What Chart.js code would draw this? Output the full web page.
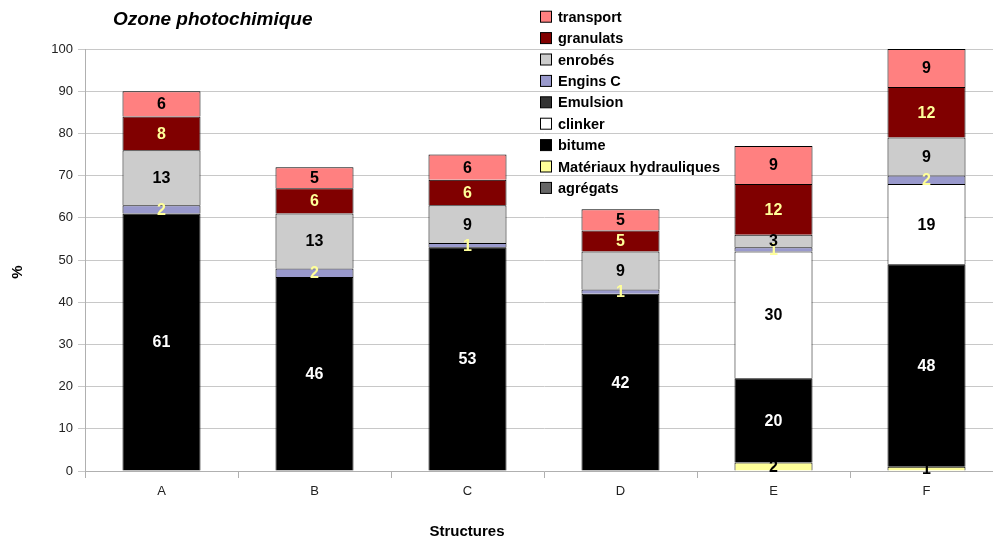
<!DOCTYPE html>
<html>
<head>
<meta charset="utf-8">
<script src="https://cdn.jsdelivr.net/npm/chart.js@4/dist/chart.umd.min.js"></script>
<style>
html,body{margin:0;padding:0;background:#fff;overflow:hidden;width:993px;height:544px;}
#wrap{position:relative;width:1010px;height:544px;}
</style>
</head>
<body>
<div id="wrap"><canvas id="c" width="1010" height="544"></canvas></div>
<script>
const categories = ['A','B','C','D','E','F'];
const agregats   = [0,0,0,0,0,0];
const materiaux  = [0,0,0,0,2,1];
const bitume     = [61,46,53,42,20,48];
const clinker    = [0,0,0,0,30,19];
const emulsion   = [0,0,0,0,0,0];
const engins     = [2,2,1,1,1,2];
const enrobes    = [13,13,9,9,3,9];
const granulats  = [8,6,6,5,12,12];
const transport  = [6,5,6,5,9,9];
const yTicks = [0,10,20,30,40,50,60,70,80,90,100];

const FONT = "'Liberation Sans', Arial, sans-serif";

function ds(label, data, color, labelColor){
  return {label, data: data.map(v => v === 0 ? null : v), backgroundColor: color,
    borderColor: '#000', borderWidth: 1, labelColor};
}
const datasets = [
  ds('agrégats', agregats, '#666666', '#000'),
  ds('Matériaux hydrauliques', materiaux, '#FFFF99', '#000'),
  ds('bitume', bitume, '#000000', '#FFFFFF'),
  ds('clinker', clinker, '#FFFFFF', '#000'),
  ds('Emulsion', emulsion, '#333333', '#FFFFFF'),
  ds('Engins C', engins, '#9999CC', '#FFFF99'),
  ds('enrobés', enrobes, '#CCCCCC', '#000'),
  ds('granulats', granulats, '#800000', '#FFFF99'),
  ds('transport', transport, '#FF8080', '#000')
];

const labelsPlugin = {
  id: 'valLabels',
  afterDatasetsDraw(chart){
    const ctx = chart.ctx;
    ctx.save();
    ctx.font = "bold 16px " + FONT;
    ctx.textAlign = 'center';
    ctx.textBaseline = 'middle';
    chart.data.datasets.forEach((d, i) => {
      const meta = chart.getDatasetMeta(i);
      meta.data.forEach((el, j) => {
        const v = d.data[j];
        if (v === null || v === undefined || v === 0) return;
        const p = el.getProps(['x','y','base'], true);
        ctx.fillStyle = d.labelColor;
        ctx.fillText(String(v), p.x, (p.y + p.base) / 2 + 1);
      });
    });
    ctx.restore();
  }
};

const decorPlugin = {
  id: 'decor',
  afterDraw(chart){
    const ctx = chart.ctx;
    ctx.save();
    ctx.fillStyle = '#000';
    ctx.font = "italic bold 19px " + FONT;
    ctx.textAlign = 'left';
    ctx.textBaseline = 'middle';
    ctx.fillText('Ozone photochimique', 113, 20);
    ctx.font = "bold 15px " + FONT;
    ctx.textAlign = 'center';
    ctx.fillText('Structures', 467, 532);
    ctx.save();
    ctx.translate(18, 272);
    ctx.rotate(-Math.PI/2);
    ctx.fillText('%', 0, 0);
    ctx.restore();
    const items = chart.data.datasets.slice().reverse();
    ctx.textAlign = 'left';
    ctx.font = "bold 14.5px " + FONT;
    items.forEach((d, i) => {
      const cy = 16.7 + i * 21.4;
      ctx.fillStyle = d.backgroundColor;
      ctx.fillRect(540.5, cy - 5.5, 11, 11);
      ctx.strokeStyle = '#000';
      ctx.lineWidth = 1;
      ctx.strokeRect(540.5, cy - 5.5, 11, 11);
      ctx.fillStyle = '#000';
      ctx.fillText(d.label, 558, cy + 1);
    });
    ctx.restore();
  }
};

new Chart(document.getElementById('c'), {
  type: 'bar',
  data: { labels: categories, datasets },
  options: {
    responsive: false,
    animation: false,
    devicePixelRatio: 1,
    layout: { padding: { left: 0, right: 7, top: 49, bottom: 0 } },
    plugins: { legend: { display: false }, tooltip: { enabled: false }, title: { display: false } },
    datasets: { bar: { categoryPercentage: 1, barPercentage: 0.51, skipNull: true } },
    scales: {
      x: {
        stacked: true,
        afterFit(s){ s.height = 73; },
        grid: { offset: true, drawOnChartArea: false, drawTicks: true, tickLength: 7, color: '#b0b0b0' },
        border: { color: '#b0b0b0' },
        ticks: { color: '#222', font: { family: FONT, size: 13 }, padding: 6 }
      },
      y: {
        stacked: true,
        min: 0, max: 100,
        afterFit(s){ s.width = 85; },
        afterBuildTicks(s){ s.ticks = yTicks.map(v => ({value: v})); },
        grid: { color: '#c8c8c8', tickLength: 7, drawTicks: true },
        border: { color: '#b0b0b0' },
        ticks: { color: '#222', font: { family: FONT, size: 13 }, padding: 5 }
      }
    }
  },
  plugins: [labelsPlugin, decorPlugin]
});
</script>
</body>
</html>
